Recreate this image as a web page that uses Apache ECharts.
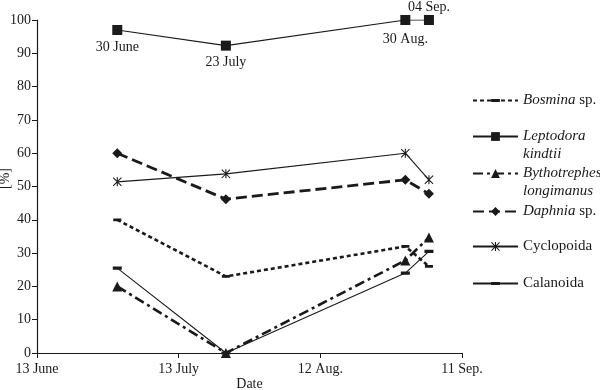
<!DOCTYPE html>
<html><head><meta charset="utf-8">
<script src="https://cdn.jsdelivr.net/npm/echarts@6/dist/echarts.min.js"></script>
<style>html,body{margin:0;padding:0;background:#fff}#c{width:600px;height:390px}</style>
</head><body><div id="c"></div>
<script>
const startDate = '2000-06-13';
const sampleDates = ['2000-06-30', '2000-07-23', '2000-08-30', '2000-09-04'];
const sampleLabels = ['30 June', '23 July', '30 Aug.', '04 Sep.'];
const xTickLabels = ['13 June', '13 July', '12 Aug.', '11 Sep.'];
const bosmina = [40, 23, 32, 26];
const leptodora = [97, 92.3, 100, 100];
const bythotrephes = [20, 0, 27.8, 34.7];
const daphnia = [60, 46.2, 52, 47.8];
const cyclopoida = [51.4, 53.8, 60, 52];
const calanoida = [25.5, 0, 24, 30.5];

const DAY = 86400000;
const t0 = Date.parse(startDate);
const dayOffsets = sampleDates.map(d => Math.round((Date.parse(d) - t0) / DAY));
const pts = vals => vals.map((v, i) => [dayOffsets[i], v]);

const FONT = 'Liberation Serif';
const INK = '#1a1a1a';
const asterisk = 'path://M4.4,0L5.6,0L5.6,10L4.4,10Z M0,0.8L0.8,0L10,9.2L9.2,10Z M9.2,0L10,0.8L0.8,10L0,9.2Z';
// flat dash inside a square bounding box (degenerate sub-paths widen the box)
const dash = 'path://M0,-2.6L0.01,-2.6Z M0,0L8,0L8,2.8L0,2.8Z M0,5.4L0.01,5.4Z';

const chart = echarts.init(document.getElementById('c'));
const rich = {
  i: { fontFamily: FONT, fontSize: 15, fontStyle: 'italic', color: INK, lineHeight: 18 },
  n: { fontFamily: FONT, fontSize: 15, color: INK, lineHeight: 18 }
};
function leg(top, name, fmt, twoLine) {
  return {
    orient: 'vertical', left: 472, top: top, padding: 0, itemWidth: 45, itemHeight: 11, itemGap: 0,
    data: [name], formatter: () => fmt, selectedMode: false, inactiveColor: INK,
    textStyle: { fontFamily: FONT, fontSize: 15, color: INK, rich: rich, padding: twoLine ? [18, 0, 0, 0] : 0 }
  };
}
chart.setOption({
  animation: false,
  grid: { left: 37, right: 138, top: 20, bottom: 37, containLabel: false, outerBoundsMode: 'none' },
  xAxis: {
    type: 'value', min: 0, max: 90, interval: 30,
    name: 'Date', nameLocation: 'middle', nameGap: 24, nameMoveOverlap: false,
    nameTextStyle: { fontFamily: FONT, fontSize: 14, color: INK },
    axisLine: { lineStyle: { color: INK, width: 1.2 } },
    axisTick: { show: true, length: 5, lineStyle: { color: INK } },
    axisLabel: { fontFamily: FONT, fontSize: 14, color: INK, margin: 9,
      formatter: v => xTickLabels[Math.round(v / 30)] },
    splitLine: { show: false }
  },
  yAxis: {
    type: 'value', min: 0, max: 100, interval: 10,
    name: '[%]', nameLocation: 'middle', nameGap: 25, nameRotate: 90, nameMoveOverlap: false,
    nameTextStyle: { fontFamily: FONT, fontSize: 14, color: INK, padding: [0, 0, 0, 16] },
    axisLine: { show: true, lineStyle: { color: INK, width: 1.2 } },
    axisTick: { show: true, length: 5, lineStyle: { color: INK } },
    axisLabel: { fontFamily: FONT, fontSize: 14, color: INK, margin: 6 },
    splitLine: { show: false }
  },
  legend: [
    leg(93, 'Bosmina', '{i|Bosmina} {n|sp.}', false),
    leg(129, 'Leptodora', '{i|Leptodora}\n{i|kindtii}', true),
    leg(166, 'Bythotrephes', '{i|Bythotrephes}\n{i|longimanus}', true),
    leg(204, 'Daphnia', '{i|Daphnia} {n|sp.}', false),
    leg(239, 'Cyclopoida', '{n|Cyclopoida}', false),
    leg(276, 'Calanoida', '{n|Calanoida}', false)
  ],
  series: [
    { name: 'Bosmina', type: 'line', data: pts(bosmina), symbol: dash, symbolSize: 8,
      itemStyle: { color: INK }, lineStyle: { color: INK, width: 2.6, type: [4, 3] } },
    { name: 'Leptodora', type: 'line', symbol: 'rect', symbolSize: 10,
      data: pts(leptodora).map((p, i) => i === 3
        ? { value: p, label: { position: 'top', distance: 1 } }
        : (i === 2 ? { value: p, label: { position: 'bottom', distance: 7 } } : p)),
      itemStyle: { color: INK }, lineStyle: { color: INK, width: 1.1 },
      label: { show: true, fontFamily: FONT, fontSize: 14, color: INK,
        formatter: p => sampleLabels[p.dataIndex], position: 'bottom', distance: 5 } },
    { name: 'Bythotrephes', type: 'line', data: pts(bythotrephes), symbol: 'triangle', symbolSize: 10,
      itemStyle: { color: INK }, lineStyle: { color: INK, width: 2.6, type: [10, 4, 3, 4] } },
    { name: 'Daphnia', type: 'line', data: pts(daphnia), symbol: 'diamond', symbolSize: 10,
      itemStyle: { color: INK }, lineStyle: { color: INK, width: 2.8, type: [11, 5] } },
    { name: 'Cyclopoida', type: 'line', data: pts(cyclopoida), symbol: asterisk, symbolSize: 9,
      itemStyle: { color: INK }, lineStyle: { color: INK, width: 1.1 } },
    { name: 'Calanoida', type: 'line', data: pts(calanoida), symbol: dash, symbolSize: 9,
      itemStyle: { color: INK }, lineStyle: { color: INK, width: 1.1 } }
  ]
});
</script>
</body></html>
